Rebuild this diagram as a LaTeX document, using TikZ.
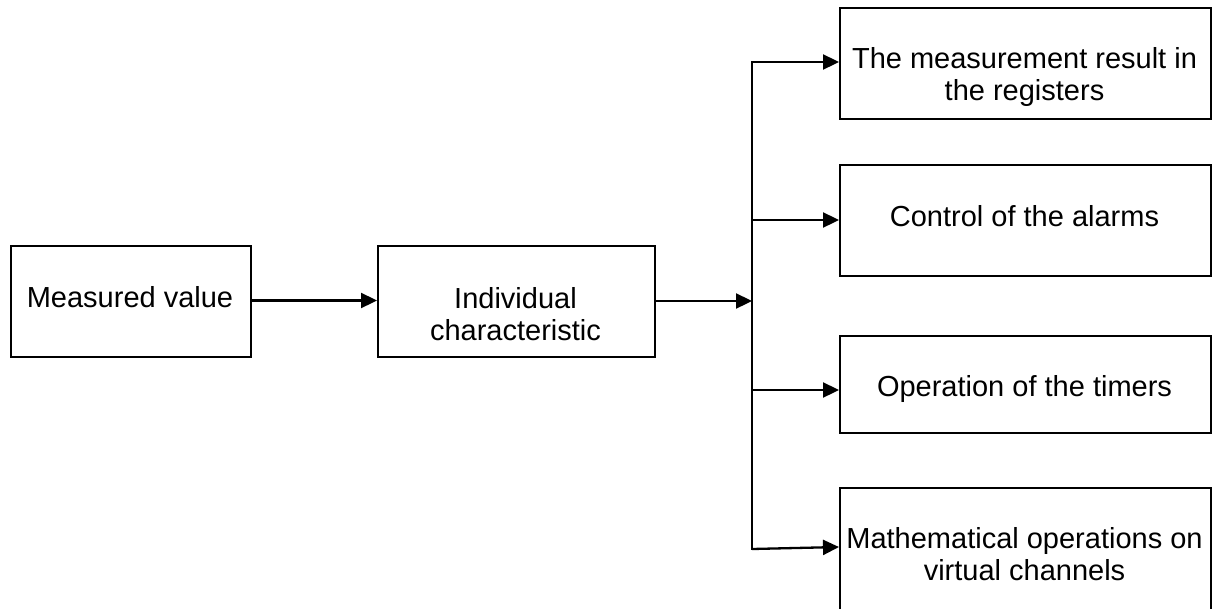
\documentclass[tikz,border=0pt]{standalone}
\usepackage{fontspec}
\setmainfont{Liberation Sans}
\usetikzlibrary{arrows.meta}
\begin{document}
\begin{tikzpicture}[x=1pt,y=-1pt,
  box/.style={draw=black,line width=2.3pt,rectangle,inner sep=0pt,anchor=north west},
  txt/.style={inner sep=0pt,anchor=base,font=\fontsize{29}{32.5}\selectfont},
  arr/.style={line width=2.3pt,-{Triangle[length=16pt,width=15pt]}},
  ln/.style={line width=2.3pt}]
\useasboundingbox (0,0) rectangle (1218,608);
% boxes
\node[box,minimum width=240pt,minimum height=111pt] (mv) at (10,245) {};
\node[box,minimum width=277pt,minimum height=111pt] (ic) at (377,245) {};
\node[box,minimum width=371pt,minimum height=111pt] (r1) at (839,7) {};
\node[box,minimum width=371pt,minimum height=111pt] (r2) at (839,164) {};
\node[box,minimum width=371pt,minimum height=97pt] (r3) at (839,335) {};
\node[box,minimum width=371pt,minimum height=130pt] (r4) at (839,487) {};
% texts
\node[txt] (mvt) at (130,307) {Measured value};
\node[txt] (ict) at (515.5,308) {\begin{tabular}[t]{@{}c@{}}Individual\\characteristic\end{tabular}};
\node[txt] (r1t) at (1024.5,68) {\begin{tabular}[t]{@{}c@{}}The measurement result in\\the registers\end{tabular}};
\node[txt] (r2t) at (1024.5,226) {Control of the alarms};
\node[txt] (r3t) at (1024.5,396) {Operation of the timers};
\node[txt] (r4t) at (1024.5,548) {\begin{tabular}[t]{@{}c@{}}Mathematical operations on\\virtual channels\end{tabular}};
% connectors
\coordinate (bus) at (752,301);
\coordinate (b1) at (752,62);
\coordinate (b2) at (752,220);
\coordinate (b3) at (752,390);
\coordinate (b4) at (752,549);
\coordinate (e4) at (839,547);
\draw[arr] (mv.east |- 0,300.5) -- (ic.west |- 0,300.5);
\draw[arr] (ic.east |- bus) -- (bus);
\draw[ln,line cap=rect] (b1) -- (b4);
\draw[arr] (b1) -- (b1 -| r1.west);
\draw[arr] (b2) -- (b2 -| r2.west);
\draw[arr] (b3) -- (b3 -| r3.west);
\draw[arr] (b4) -- (e4);
\end{tikzpicture}
\end{document}
